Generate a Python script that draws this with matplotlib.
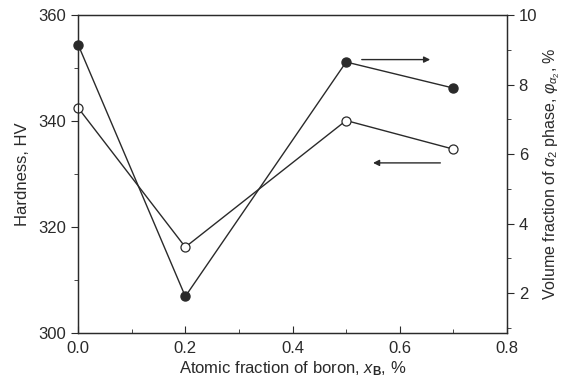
import matplotlib
matplotlib.use("Agg")
import matplotlib.pyplot as plt
from matplotlib.ticker import MultipleLocator

plt.rcParams['font.family'] = ['Liberation Sans', 'DejaVu Sans']
plt.rcParams['mathtext.fontset'] = 'custom'
plt.rcParams['mathtext.rm'] = 'Liberation Sans'
plt.rcParams['mathtext.it'] = 'Liberation Sans:italic'
plt.rcParams['mathtext.bf'] = 'Liberation Sans:bold'

# boron content, at.%
boron = [0.0, 0.2, 0.5, 0.7]
# hardness, HV (open circles, left axis)
hardness = [342.5, 316.2, 340.1, 334.7]
# volume fraction of alpha2 phase, % (filled circles, right axis)
alpha2 = [9.15, 1.9, 8.65, 7.9]

ink = "#2a2a2a"

fig = plt.figure(figsize=(5.62, 3.88), dpi=100)
ax = fig.add_axes([0.139, 0.142, 0.763, 0.819])
ax2 = ax.twinx()

ax.plot(boron, hardness, color=ink, lw=1.0, marker='o', ms=6.5,
        mfc='white', mec=ink, mew=0.9, clip_on=False, zorder=3)
ax2.plot(boron, alpha2, color=ink, lw=1.0, marker='o', ms=6.5,
         mfc=ink, mec=ink, clip_on=False, zorder=3)

ax.set_xlim(0.0, 0.8)
ax.set_ylim(300, 360)
ax2.set_ylim(0.85, 10)

ax.xaxis.set_major_locator(MultipleLocator(0.2))
ax.xaxis.set_minor_locator(MultipleLocator(0.1))
ax.yaxis.set_major_locator(MultipleLocator(20))
ax.yaxis.set_minor_locator(MultipleLocator(10))
ax2.yaxis.set_major_locator(MultipleLocator(2))
ax2.yaxis.set_minor_locator(MultipleLocator(1))
ax.xaxis.set_major_formatter(plt.FormatStrFormatter('%.1f'))

ax.tick_params(axis='x', which='both', direction='in', labelsize=12, colors=ink, pad=6)
ax.tick_params(axis='x', which='major', length=5)
ax.tick_params(axis='x', which='minor', length=3)
ax.tick_params(axis='y', which='both', direction='out', labelsize=12, colors=ink)
ax.tick_params(axis='y', which='major', length=5)
ax.tick_params(axis='y', which='minor', length=3)
ax2.tick_params(axis='y', which='both', direction='out', labelsize=12, colors=ink)
ax2.tick_params(axis='y', which='major', length=5)
ax2.tick_params(axis='y', which='minor', length=3)

for a in (ax, ax2):
    for s in a.spines.values():
        s.set_color(ink)
        s.set_linewidth(0.9)

ax.set_xlabel(r"Atomic fraction of boron, $\mathit{x}_{\mathbf{B}}$, %", fontsize=12, color=ink, labelpad=2)
ax.set_ylabel("Hardness, HV", fontsize=12, color=ink, labelpad=6)
ax2.set_ylabel(r"Volume fraction of $\mathit{\alpha}_2$ phase, $\mathit{\varphi}_{\mathit{\alpha}_2}$, %",
               fontsize=11.5, color=ink, labelpad=3)

# arrows pointing to the relevant axis
ax2.annotate("", xy=(0.662, 8.72), xytext=(0.524, 8.72),
             arrowprops=dict(arrowstyle='-|>', color=ink, lw=1.0, mutation_scale=9))
ax.annotate("", xy=(0.545, 332.1), xytext=(0.681, 332.1),
            arrowprops=dict(arrowstyle='-|>', color=ink, lw=1.0, mutation_scale=9))

fig.savefig("out.png", dpi=100)
